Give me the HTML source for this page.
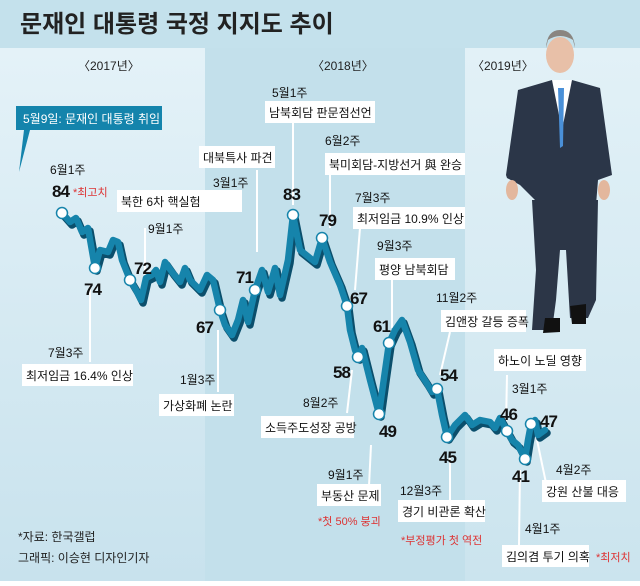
<!DOCTYPE html>
<html><head><meta charset="utf-8"><style>
body{margin:0;width:640px;height:581px;overflow:hidden;font-family:"Liberation Sans","Noto Sans CJK KR",sans-serif}
svg text{font-family:"Liberation Sans","Noto Sans CJK KR",sans-serif}
.l{font-size:12px;fill:#111}
.w{font-size:12px;fill:#111}
.n{font-size:17px;font-weight:bold;fill:#111;letter-spacing:-1px}
.r{font-size:11px;fill:#d33}
</style></head><body>
<svg width="640" height="581" xmlns="http://www.w3.org/2000/svg">
<defs>
<linearGradient id="g1" x1="0" y1="0" x2="0" y2="1"><stop offset="0" stop-color="#e4f2f8"/><stop offset="1" stop-color="#c8e2ed"/></linearGradient>
<linearGradient id="g3" x1="0" y1="0" x2="0" y2="1"><stop offset="0" stop-color="#e2f1f7"/><stop offset="1" stop-color="#cbe4ee"/></linearGradient>
</defs>
<rect width="640" height="581" fill="#c3e0eb"/>
<rect x="0" y="0" width="640" height="48" fill="#c4e1ec"/>
<text x="20" y="32" font-size="24" font-weight="bold" fill="#222">문재인 대통령 국정 지지도 추이</text>
<rect x="0" y="48" width="205" height="533" fill="url(#g1)"/>
<rect x="465" y="48" width="175" height="533" fill="url(#g3)"/>
<text x="78" y="70" font-size="12" fill="#222">〈2017년〉</text>
<text x="312" y="70" font-size="12" fill="#222">〈2018년〉</text>
<text x="472" y="70" font-size="12" fill="#222">〈2019년〉</text>
<!-- person -->
<g>
<ellipse cx="560" cy="55" rx="14" ry="18" fill="#e8c0a8"/>
<path d="M546 48 Q547 30 560 30 Q574 30 575 48 L573 40 Q560 32 548 40Z" fill="#8a8580"/>
<path d="M552 80 L572 80 L568 150 L556 150Z" fill="#fff"/>
<path d="M506 175 L518 90 L552 80 L562 130 L572 80 L600 88 L612 175 L598 180 L596 205 L540 205 L520 185 L507 178Z" fill="#2b3648"/>
<path d="M558 88 L564 88 L563 146 L560 148Z" fill="#4a90d8"/>
<path d="M532 200 L598 200 L596 300 L588 318 L570 318 L566 250 L560 250 L556 300 L552 330 L532 330 L536 270Z" fill="#2c3647"/>
<ellipse cx="512" cy="190" rx="6" ry="10" fill="#e3b79d"/>
<ellipse cx="604" cy="190" rx="6" ry="10" fill="#e3b79d"/>
<path d="M545 318 L560 318 L560 332 L543 333Z" fill="#111"/>
<path d="M570 306 L586 304 L586 324 L572 324Z" fill="#111"/>
</g>
<!-- callout top-left -->
<rect x="16" y="106" width="146" height="24" fill="#1484ac"/>
<text x="23" y="123" font-size="12" fill="#fff">5월9일: 문재인 대통령 취임</text>
<polygon points="24,130 30,130 19,172" fill="#1484ac"/>
<!-- leader lines -->
<g stroke="#fff" stroke-width="2">
<line x1="90" y1="285" x2="90" y2="362"/>
<line x1="145" y1="288" x2="145" y2="228"/>
<line x1="218" y1="330" x2="218" y2="392"/>
<line x1="257" y1="252" x2="257" y2="170"/>
<line x1="293" y1="205" x2="293" y2="120"/>
<line x1="330" y1="228" x2="330" y2="172"/>
<line x1="355" y1="290" x2="360" y2="228"/>
<line x1="352" y1="370" x2="347" y2="413"/>
<line x1="371" y1="445" x2="369" y2="486"/>
<line x1="392" y1="328" x2="392" y2="272"/>
<line x1="440" y1="375" x2="450" y2="332"/>
<line x1="450" y1="458" x2="450" y2="507"/>
<line x1="506" y1="425" x2="507" y2="375"/>
<line x1="520" y1="470" x2="519" y2="545"/>
<line x1="537" y1="440" x2="546" y2="483"/>
</g>
<!-- line -->
<g fill="none" stroke-linejoin="round" stroke-linecap="round">
<polyline transform="translate(2,3)" stroke="#0b4f6c" stroke-width="7.5" points="62,213 70,222 76,218 82,232 88,228 95,268 100,250 108,252 113,240 118,242 122,260 130,280 136,290 141,300 146,278 152,275 156,270 160,282 165,262 172,272 180,282 185,268 190,280 200,290 207,275 213,280 220,310 225,325 232,335 238,320 243,300 248,322 255,290 262,270 268,292 275,268 280,295 288,260 293,215 300,250 310,258 315,262 322,238 330,262 340,285 347,306 350,330 355,350 358,357 362,348 370,380 379,414 384,378 389,343 395,330 402,320 410,342 418,370 426,382 432,392 437,389 442,415 447,437 455,425 465,415 472,425 480,420 490,422 495,428 500,418 507,431 512,440 518,445 525,459 528,440 531,424 535,420 538,435 545,430"/>
<polyline stroke="#1684ab" stroke-width="6.5" points="62,213 70,222 76,218 82,232 88,228 95,268 100,250 108,252 113,240 118,242 122,260 130,280 136,290 141,300 146,278 152,275 156,270 160,282 165,262 172,272 180,282 185,268 190,280 200,290 207,275 213,280 220,310 225,325 232,335 238,320 243,300 248,322 255,290 262,270 268,292 275,268 280,295 288,260 293,215 300,250 310,258 315,262 322,238 330,262 340,285 347,306 350,330 355,350 358,357 362,348 370,380 379,414 384,378 389,343 395,330 402,320 410,342 418,370 426,382 432,392 437,389 442,415 447,437 455,425 465,415 472,425 480,420 490,422 495,428 500,418 507,431 512,440 518,445 525,459 528,440 531,424 535,420 538,435 545,430"/>
</g>
<g fill="#fff" stroke="#1684ab" stroke-width="1.5">
<circle cx="62" cy="213" r="5.5"/><circle cx="95" cy="268" r="5.5"/><circle cx="130" cy="280" r="5.5"/>
<circle cx="220" cy="310" r="5.5"/><circle cx="255" cy="290" r="5.5"/><circle cx="293" cy="215" r="5.5"/>
<circle cx="322" cy="238" r="5.5"/><circle cx="347" cy="306" r="5.5"/><circle cx="358" cy="357" r="5.5"/>
<circle cx="379" cy="414" r="5.5"/><circle cx="389" cy="343" r="5.5"/><circle cx="437" cy="389" r="5.5"/>
<circle cx="447" cy="437" r="5.5"/><circle cx="507" cy="431" r="5.5"/><circle cx="525" cy="459" r="5.5"/>
<circle cx="531" cy="424" r="5.5"/>
</g>
<!-- numbers -->
<text class="n" x="52" y="197">84</text>
<text class="n" x="84" y="295">74</text>
<text class="n" x="134" y="274">72</text>
<text class="n" x="196" y="333">67</text>
<text class="n" x="236" y="283">71</text>
<text class="n" x="283" y="200">83</text>
<text class="n" x="319" y="226">79</text>
<text class="n" x="350" y="304">67</text>
<text class="n" x="333" y="378">58</text>
<text class="n" x="379" y="437">49</text>
<text class="n" x="373" y="332">61</text>
<text class="n" x="440" y="381">54</text>
<text class="n" x="439" y="463">45</text>
<text class="n" x="500" y="420">46</text>
<text class="n" x="512" y="482">41</text>
<text class="n" x="540" y="427">47</text>
<!-- small labels -->
<text class="l" x="50" y="174">6월1주</text>
<text class="r" x="73" y="196">*최고치</text>
<text class="l" x="148" y="233">9월1주</text>
<text class="l" x="213" y="187">3월1주</text>
<text class="l" x="272" y="97">5월1주</text>
<text class="l" x="325" y="145">6월2주</text>
<text class="l" x="355" y="202">7월3주</text>
<text class="l" x="377" y="250">9월3주</text>
<text class="l" x="436" y="302">11월2주</text>
<text class="l" x="512" y="393">3월1주</text>
<text class="l" x="48" y="357">7월3주</text>
<text class="l" x="180" y="384">1월3주</text>
<text class="l" x="303" y="407">8월2주</text>
<text class="l" x="328" y="479">9월1주</text>
<text class="l" x="400" y="495">12월3주</text>
<text class="l" x="556" y="474">4월2주</text>
<text class="l" x="525" y="533">4월1주</text>
<!-- white boxes -->
<g fill="#fff">
<rect x="117" y="190" width="125" height="22"/>
<rect x="199" y="146" width="76" height="22"/>
<rect x="265" y="101" width="110" height="22"/>
<rect x="325" y="153" width="140" height="22"/>
<rect x="353" y="207" width="112" height="22"/>
<rect x="375" y="258" width="80" height="22"/>
<rect x="441" y="310" width="85" height="22"/>
<rect x="494" y="349" width="92" height="22"/>
<rect x="22" y="364" width="111" height="22"/>
<rect x="159" y="394" width="75" height="22"/>
<rect x="261" y="416" width="93" height="22"/>
<rect x="317" y="484" width="64" height="22"/>
<rect x="398" y="500" width="87" height="22"/>
<rect x="542" y="480" width="84" height="22"/>
<rect x="502" y="545" width="87" height="22"/>
</g>
<text class="w" x="121" y="206">북한 6차 핵실험</text>
<text class="w" x="203" y="162">대북특사 파견</text>
<text class="w" x="269" y="117">남북회담 판문점선언</text>
<text class="w" x="329" y="169">북미회담-지방선거 與 완승</text>
<text class="w" x="357" y="223">최저임금 10.9% 인상</text>
<text class="w" x="379" y="274">평양 남북회담</text>
<text class="w" x="445" y="326">김앤장 갈등 증폭</text>
<text class="w" x="498" y="365">하노이 노딜 영향</text>
<text class="w" x="26" y="380">최저임금 16.4% 인상</text>
<text class="w" x="163" y="410">가상화폐 논란</text>
<text class="w" x="265" y="432">소득주도성장 공방</text>
<text class="w" x="321" y="500">부동산 문제</text>
<text class="w" x="402" y="516">경기 비관론 확산</text>
<text class="w" x="546" y="496">강원 산불 대응</text>
<text class="w" x="506" y="561">김의겸 투기 의혹</text>
<text class="r" x="318" y="525">*첫 50% 붕괴</text>
<text class="r" x="401" y="544">*부정평가 첫 역전</text>
<text class="r" x="596" y="561">*최저치</text>
<text x="18" y="541" font-size="12" fill="#222">*자료: 한국갤럽</text>
<text x="18" y="562" font-size="12" fill="#222">그래픽: 이승현 디자인기자</text>
</svg>
</body></html>
